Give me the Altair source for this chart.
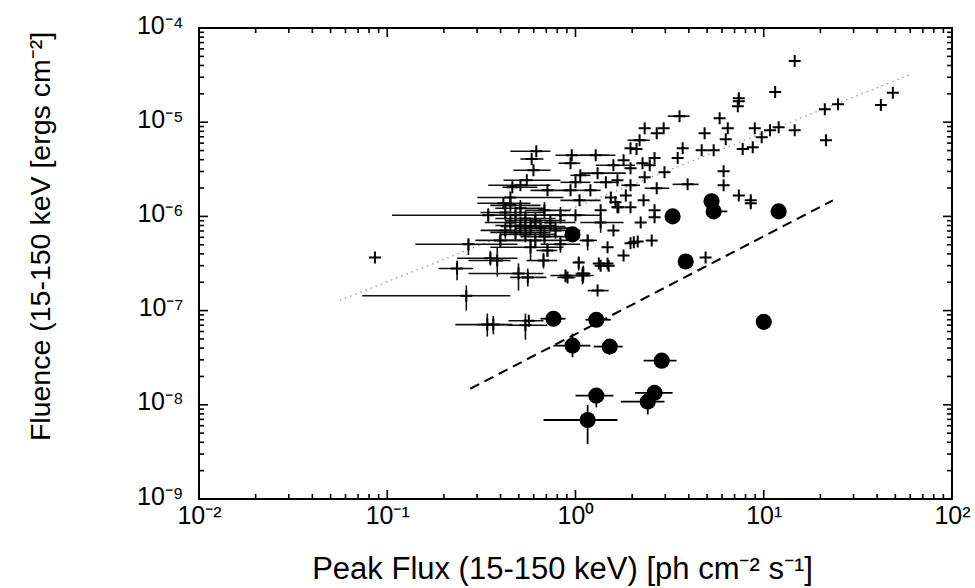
import altair as alt
import pandas as pd

# ---------------- data ----------------
# long bursts without visible error bars (flux ph/cm2/s, fluence erg/cm2)
b_flux = [14.6, 11.5, 7.37, 7.37, 7.28, 21.1, 24.8, 41.9, 48.5, 21.4,
          14.6, 12.0, 10.8, 9.75, 8.96, 8.74, 6.44, 6.28, 5.83, 4.85,
          3.71, 4.68, 5.42, 6.12, 6.12, 7.37, 8.53, 3.49, 2.97, 2.63,
          2.33, 2.70, 2.94, 1.96, 2.11, 1.80, 2.48, 2.27, 1.96, 1.67,
          1.54, 1.67, 2.30, 2.63, 2.63, 1.59, 1.48, 2.04, 2.54, 1.80,
          1.33, 1.48, 0.086, 1.36, 1.50, 1.96, 2.14, 4.91, 8.53, 1.69,
          1.96, 1.63, 2.33, 1.85, 1.36, 2.22]
b_flu = [4.46e-5, 2.09e-5, 1.80e-5, 1.67e-5, 1.48e-5, 1.37e-5, 1.55e-5, 1.52e-5, 2.05e-5, 6.43e-6,
         8.22e-6, 8.85e-6, 8.22e-6, 6.92e-6, 8.65e-6, 5.42e-6, 8.65e-6, 6.59e-6, 1.10e-5, 7.64e-6,
         5.30e-6, 5.04e-6, 5.04e-6, 3.01e-6, 2.14e-6, 1.67e-6, 1.48e-6, 4.16e-6, 2.95e-6, 4.16e-6,
         8.65e-6, 7.64e-6, 8.65e-6, 5.30e-6, 5.18e-6, 3.94e-6, 3.49e-6, 3.67e-6, 3.25e-6, 2.42e-6,
         1.59e-6, 1.25e-6, 1.48e-6, 9.8e-7, 1.16e-6, 7.1e-7, 4.7e-7, 5.3e-7, 5.56e-7, 3.85e-7,
         3.17e-7, 3.17e-7, 3.67e-7, 3.0e-7, 3.0e-7, 5.2e-7, 5.43e-7, 3.67e-7, 1.38e-6, 1.25e-6,
         1.25e-6, 1.41e-6, 2.6e-6, 1.67e-6, 1.16e-6, 8.6e-7]

# long bursts with error bars
e_flux = [7.73, 3.57, 3.94, 2.70, 2.19,
          0.955, 1.28, 0.941, 1.59, 1.31,
          0.619, 0.585, 0.598, 0.551, 0.510,
          1.0, 0.462, 0.451, 0.71, 0.941,
          1.05, 0.451, 0.344, 0.414, 1.36,
          1.16, 1.31, 1.04, 1.10, 0.907,
          0.71, 0.577, 0.676, 0.498, 0.558,
          0.384, 0.353, 0.270, 0.235, 0.263,
          0.340, 0.366, 0.542, 0.565, 0.885,
          1.09, 1.06, 1.45, 1.96, 1.20,
          1.0, 0.424, 0.480, 0.542, 0.612,
          0.451, 0.510, 0.577, 0.652, 0.424,
          0.480, 0.542, 0.736, 0.783, 0.684,
          0.832, 0.399, 0.612, 0.510, 0.684,
          0.832]
e_flu = [5.18e-6, 1.16e-5, 2.19e-6, 1.99e-6, 6.43e-6,
         4.46e-6, 4.46e-6, 3.67e-6, 3.49e-6, 2.88e-6,
         4.92e-6, 4.07e-6, 3.09e-6, 2.42e-6, 2.14e-6,
         2.30e-6, 2.04e-6, 1.59e-6, 1.89e-6, 1.89e-6,
         1.48e-6, 1.31e-6, 1.03e-6, 1.38e-6, 8.6e-7,
         5.56e-7, 1.63e-7, 3.25e-7, 2.48e-7, 2.25e-7,
         4.35e-7, 4.7e-7, 3.4e-7, 2.48e-7, 2.25e-7,
         3.4e-7, 3.6e-7, 5.06e-7, 2.8e-7, 1.44e-7,
         7.1e-8, 7.1e-8, 7.0e-8, 7.8e-8, 2.36e-7,
         2.36e-7, 2.73e-6, 2.30e-6, 2.14e-6, 1.89e-6,
         1.03e-6, 1.10e-6, 1.03e-6, 9.5e-7, 9.06e-7,
         8.6e-7, 8.0e-7, 7.8e-7, 7.5e-7, 7.1e-7,
         6.76e-7, 6.44e-7, 8.6e-7, 7.1e-7, 6.1e-7,
         1.03e-6, 5.56e-7, 5.56e-7, 1.22e-6, 1.16e-6,
         5.06e-7]
e_flux_lo = [7.28, 3.09, 3.28, 2.33, 1.89,
             0.783, 1.06, 0.812, 1.28, 1.06,
             0.451, 0.510, 0.468, 0.414, 0.344,
             0.832, 0.409, 0.301, 0.577, 0.85,
             0.832, 0.353, 0.106, 0.301, 1.06,
             1.05, 1.16, 0.98, 1.0, 0.80,
             0.62, 0.353, 0.55, 0.270, 0.45,
             0.27, 0.235, 0.141, 0.187, 0.0736,
             0.230, 0.30, 0.435, 0.44, 0.736,
             1.0, 0.94, 1.25, 1.75, 1.05,
             0.832, 0.313, 0.353, 0.375, 0.424,
             0.33, 0.375, 0.40, 0.48, 0.313,
             0.353, 0.40, 0.577, 0.612, 0.51,
             0.652, 0.294, 0.424, 0.375, 0.542,
             0.652]
e_flux_hi = [8.32, 4.04, 4.51, 3.15, 2.48,
             1.50, 1.63, 1.06, 2.07, 1.85,
             0.736, 0.676, 0.736, 0.832, 0.736,
             1.20, 0.627, 0.863, 0.941, 1.05,
             1.36, 0.652, 0.832, 0.577, 1.80,
             1.30, 1.50, 1.10, 1.2, 1.0,
             0.80, 0.863, 0.80, 0.676, 0.70,
             0.451, 0.492, 0.492, 0.286, 0.451,
             0.462, 0.43, 0.71, 0.676, 1.25,
             1.2, 1.2, 1.7, 2.2, 1.36,
             1.36, 0.684, 0.832, 0.783, 0.885,
             0.652, 0.783, 0.885, 0.941, 0.612,
             0.736, 0.783, 1.0, 1.06, 0.885,
             1.13, 0.577, 0.941, 0.684, 0.941,
             1.06]
e_flu_lo = [5.18e-6, 1.16e-5, 2.19e-6, 1.99e-6, 6.43e-6,
            4.46e-6, 4.46e-6, 3.67e-6, 3.49e-6, 2.88e-6,
            4.92e-6, 4.07e-6, 3.09e-6, 2.42e-6, 2.14e-6,
            2.30e-6, 2.04e-6, 1.59e-6, 1.89e-6, 1.89e-6,
            1.48e-6, 1.31e-6, 8.6e-7, 1.38e-6, 6.7e-7,
            4.35e-7, 1.63e-7, 2.67e-7, 1.97e-7, 2.25e-7,
            3.7e-7, 3.4e-7, 2.8e-7, 1.63e-7, 1.8e-7,
            2.3e-7, 3.0e-7, 3.9e-7, 2.1e-7, 1.0e-7,
            5.3e-8, 5.6e-8, 4.9e-8, 7.8e-8, 2.0e-7,
            1.9e-7, 2.73e-6, 2.30e-6, 2.14e-6, 1.89e-6,
            1.03e-6, 9.0e-7, 8.4e-7, 7.8e-7, 7.4e-7,
            7.0e-7, 6.6e-7, 6.4e-7, 6.1e-7, 5.8e-7,
            5.5e-7, 5.3e-7, 7.0e-7, 5.8e-7, 5.0e-7,
            8.4e-7, 4.6e-7, 4.6e-7, 1.0e-6, 9.5e-7,
            4.1e-7]
e_flu_hi = [5.18e-6, 1.16e-5, 2.19e-6, 1.99e-6, 6.43e-6,
            4.46e-6, 4.46e-6, 3.67e-6, 3.49e-6, 2.88e-6,
            4.92e-6, 4.07e-6, 3.09e-6, 2.42e-6, 2.14e-6,
            2.30e-6, 2.04e-6, 1.59e-6, 1.89e-6, 1.89e-6,
            1.48e-6, 1.31e-6, 1.22e-6, 1.38e-6, 1.1e-6,
            6.4e-7, 1.63e-7, 3.7e-7, 3.0e-7, 2.25e-7,
            5.2e-7, 5.8e-7, 4.1e-7, 3.17e-7, 2.8e-7,
            4.7e-7, 4.3e-7, 5.7e-7, 3.4e-7, 1.85e-7,
            9.3e-8, 8.8e-8, 9.3e-8, 7.8e-8, 2.7e-7,
            2.9e-7, 2.73e-6, 2.30e-6, 2.14e-6, 1.89e-6,
            1.03e-6, 1.34e-6, 1.26e-6, 1.16e-6, 1.1e-6,
            1.05e-6, 9.8e-7, 9.5e-7, 9.2e-7, 8.7e-7,
            8.2e-7, 7.9e-7, 1.05e-6, 8.7e-7, 7.4e-7,
            1.26e-6, 6.8e-7, 6.8e-7, 1.49e-6, 1.42e-6,
            6.2e-7]

# short bursts (filled circles)
s_flux = [0.764, 1.29, 0.964, 1.52, 2.87, 1.29, 2.42, 2.63, 1.16, 0.964, 3.28, 5.28, 5.42, 12.0, 3.85, 10.0]
s_flu = [8.2e-8, 8.0e-8, 4.25e-8, 4.15e-8, 2.94e-8, 1.25e-8, 1.08e-8, 1.34e-8, 6.9e-9, 6.44e-7, 1.0e-6, 1.45e-6, 1.13e-6, 1.13e-6, 3.32e-7, 7.6e-8]
s_flux_lo = [0.652, 1.13, 0.764, 1.25, 2.30, 1.0, 1.74, 2.07, 0.676, 0.964, 3.28, 5.28, 5.0, 12.0, 3.85, 10.0]
s_flux_hi = [0.885, 1.54, 1.20, 1.78, 3.44, 1.59, 2.97, 3.28, 1.67, 0.964, 3.28, 5.28, 6.4, 12.0, 3.85, 10.0]
s_flu_lo = [8.2e-8, 8.0e-8, 3.2e-8, 4.15e-8, 2.94e-8, 9.4e-9, 7.9e-9, 1.34e-8, 3.85e-9, 6.44e-7, 1.0e-6, 1.45e-6, 1.13e-6, 1.13e-6, 3.32e-7, 7.6e-8]
s_flu_hi = [8.2e-8, 8.0e-8, 5.7e-8, 4.15e-8, 2.94e-8, 1.25e-8, 1.08e-8, 1.34e-8, 1.0e-8, 6.44e-7, 1.0e-6, 1.45e-6, 1.13e-6, 1.13e-6, 3.32e-7, 7.6e-8]

# dotted correlation line and dashed separation line (end points)
fit_flux = [0.056, 60.0]
fit_flu = [1.28e-7, 3.2e-5]
cut_flux = [0.276, 23.3]
cut_flu = [1.48e-8, 1.48e-6]

# axis ticks / labels
x_major = [0.01, 0.1, 1, 10, 100]
x_labels = ['10\u207b\u00b2', '10\u207b\u00b9', '10\u2070', '10\u00b9', '10\u00b2']
y_major = [1e-9, 1e-8, 1e-7, 1e-6, 1e-5, 1e-4]
y_labels = ['10\u207b\u2079', '10\u207b\u2078', '10\u207b\u2077', '10\u207b\u2076', '10\u207b\u2075', '10\u207b\u2074']
x_minor = [m * 10.0 ** e for e in range(-2, 2) for m in range(2, 10)]
y_minor = [m * 10.0 ** e for e in range(-9, -4) for m in range(2, 10)]

x_title = 'Peak Flux (15-150 keV) [ph cm\u207b\u00b2 s\u207b\u00b9]'
y_title = 'Fluence (15-150 keV [ergs cm\u207b\u00b2]'

# ---------------- chart ----------------
W, H = 753, 471
FONT = 'Liberation Sans'
xs = alt.Scale(type='log', domain=[0.01, 100])
ys = alt.Scale(type='log', domain=[1e-9, 1e-4])

long_b = pd.DataFrame({'x': b_flux, 'y': b_flu})
long_e = pd.DataFrame({'x': e_flux, 'y': e_flu, 'xlo': e_flux_lo, 'xhi': e_flux_hi,
                       'ylo': e_flu_lo, 'yhi': e_flu_hi})
short = pd.DataFrame({'x': s_flux, 'y': s_flu, 'xlo': s_flux_lo, 'xhi': s_flux_hi,
                      'ylo': s_flu_lo, 'yhi': s_flu_hi})
fit = pd.DataFrame({'x': fit_flux, 'y': fit_flu})
cut = pd.DataFrame({'x': cut_flux, 'y': cut_flu})

x_expr = str(x_labels) + '[round(log(datum.value)/LN10)+2]'
y_expr = str(y_labels) + '[round(log(datum.value)/LN10)+9]'

x_axis = alt.Axis(values=x_major, labelExpr=x_expr, ticks=False, tickSize=0, domain=False,
                  grid=False, labelFont=FONT, labelFontSize=25, labelColor='black',
                  labelPadding=4, labelFlush=False, labelOverlap=False,
                  title=x_title, titleFont=FONT, titleFontSize=31, titleFontWeight='normal',
                  titleColor='black', titleX=363, titleY=79, titleAlign='center',
                  titleBaseline='alphabetic')
y_axis = alt.Axis(values=y_major, labelExpr=y_expr, ticks=False, tickSize=0, domain=False,
                  grid=False, labelFont=FONT, labelFontSize=25, labelColor='black',
                  labelPadding=16, labelFlush=False, labelOverlap=False, labelOffset=-3,
                  title=y_title, titleFont=FONT, titleFontSize=28.5, titleFontWeight='normal',
                  titleColor='black', titleX=-150, titleY=208, titleAlign='center',
                  titleBaseline='alphabetic', titleAngle=270)


def X(f):
    return alt.X(f, type='quantitative', scale=xs, axis=x_axis)


def Y(f):
    return alt.Y(f, type='quantitative', scale=ys, axis=y_axis)


fit_line = alt.Chart(fit).mark_line(color='#9a9a9a', strokeWidth=1.3, strokeDash=[1.5, 4]).encode(
    x=X('x'), y=Y('y'))
cut_line = alt.Chart(cut).mark_line(color='black', strokeWidth=2, strokeDash=[10, 6]).encode(
    x=X('x'), y=Y('y'))

le_h = alt.Chart(long_e).mark_rule(color='#111', strokeWidth=1.6).encode(
    x=X('xlo'), x2='xhi', y=Y('y'))
le_v = alt.Chart(long_e).mark_rule(color='#111', strokeWidth=1.6).encode(
    x=X('x'), y=Y('ylo'), y2='yhi')

cross = 'M-1,0L1,0M0,-1L0,1'
le_pt = alt.Chart(long_e).mark_point(shape=cross, size=144, strokeWidth=2, color='black',
                                     filled=False, opacity=1).encode(x=X('x'), y=Y('y'))
lb_pt = alt.Chart(long_b).mark_point(shape=cross, size=144, strokeWidth=2, color='black',
                                     filled=False, opacity=1).encode(x=X('x'), y=Y('y'))

s_h = alt.Chart(short).mark_rule(color='black', strokeWidth=1.8).encode(
    x=X('xlo'), x2='xhi', y=Y('y'))
s_v = alt.Chart(short).mark_rule(color='black', strokeWidth=1.8).encode(
    x=X('x'), y=Y('ylo'), y2='yhi')
s_pt = alt.Chart(short).mark_circle(size=260, color='black', opacity=1).encode(
    x=X('x'), y=Y('y'))

# inward tick marks on all four sides
xmaj = pd.DataFrame({'v': x_major})
xmin = pd.DataFrame({'v': x_minor})
ymaj = pd.DataFrame({'v': y_major})
ymin = pd.DataFrame({'v': y_minor})
tk = dict(color='black', strokeWidth=1.6)
MAJ, MIN = 9, 5
ticks = [
    alt.Chart(xmaj).mark_rule(**tk).encode(x=X('v'), y=alt.value(H), y2=alt.value(H - MAJ)),
    alt.Chart(xmaj).mark_rule(**tk).encode(x=X('v'), y=alt.value(0), y2=alt.value(MAJ)),
    alt.Chart(xmin).mark_rule(**tk).encode(x=X('v'), y=alt.value(H), y2=alt.value(H - MIN)),
    alt.Chart(xmin).mark_rule(**tk).encode(x=X('v'), y=alt.value(0), y2=alt.value(MIN)),
    alt.Chart(ymaj).mark_rule(**tk).encode(y=Y('v'), x=alt.value(0), x2=alt.value(MAJ)),
    alt.Chart(ymaj).mark_rule(**tk).encode(y=Y('v'), x=alt.value(W), x2=alt.value(W - MAJ)),
    alt.Chart(ymin).mark_rule(**tk).encode(y=Y('v'), x=alt.value(0), x2=alt.value(MIN)),
    alt.Chart(ymin).mark_rule(**tk).encode(y=Y('v'), x=alt.value(W), x2=alt.value(W - MIN)),
]

chart = alt.layer(
    fit_line, cut_line, le_h, le_v, le_pt, lb_pt, s_h, s_v, s_pt, *ticks
).properties(
    width=W, height=H,
    autosize=alt.AutoSizeParams(type='none'),
    padding={'left': 199, 'top': 28, 'right': 23, 'bottom': 89},
    background='white'
).configure_view(stroke='black', strokeWidth=2)

chart.save('out.html', embed_options={'renderer': 'svg', 'actions': False})
